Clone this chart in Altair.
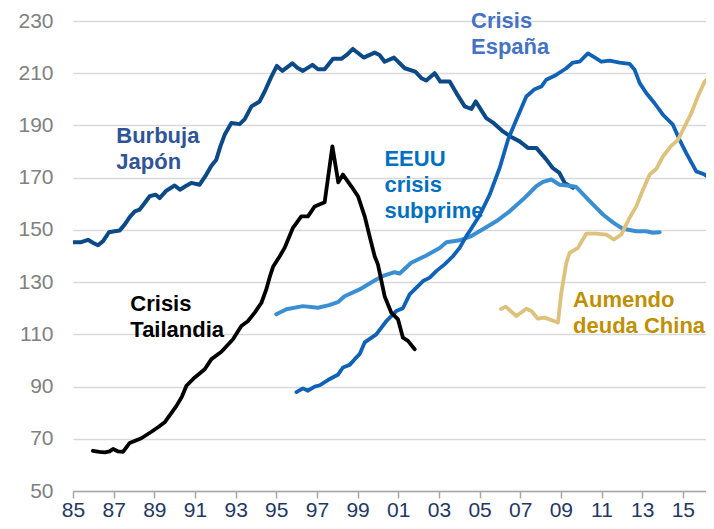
import altair as alt
import pandas as pd

# ---- data (decimal years, index values) ----
japan_years = [1985.0, 1985.4, 1985.74, 1986.0, 1986.23, 1986.48, 1986.77, 1987.05, 1987.3, 1987.54,
               1987.8, 1988.04, 1988.28, 1988.5, 1988.77, 1989.07, 1989.26, 1989.59, 1990.0, 1990.26,
               1990.55, 1990.82, 1991.23, 1991.56, 1991.8, 1992.05, 1992.25, 1992.46, 1992.79, 1993.2,
               1993.45, 1993.78, 1994.18, 1994.43, 1994.76, 1995.03, 1995.3, 1995.79, 1996.05, 1996.31,
               1996.78, 1997.05, 1997.38, 1997.79, 1998.2, 1998.5, 1998.77, 1999.3, 1999.84, 2000.08,
               2000.33, 2000.79, 2001.32, 2001.84, 2002.14, 2002.38, 2002.79, 2003.07, 2003.53, 2003.86,
               2004.27, 2004.6, 2004.81, 2005.33, 2005.66, 2006.15, 2006.56, 2006.97, 2007.38, 2007.79,
               2008.29, 2008.6, 2008.93, 2009.19, 2009.6]
japan_values = [145.3, 145.3, 146.2, 145.0, 144.1, 145.7, 149.1, 149.5, 149.8, 152.0,
                155.0, 157.1, 157.8, 160.0, 162.9, 163.5, 162.2, 165.0, 167.0, 165.4,
                166.8, 168.0, 167.3, 171.2, 174.5, 176.9, 182.0, 186.4, 190.9, 190.5,
                192.4, 197.3, 199.2, 203.0, 208.7, 212.8, 210.9, 213.8, 212.0, 210.9,
                213.2, 211.5, 211.5, 215.5, 215.5, 217.2, 219.3, 216.0, 217.9, 217.0,
                214.4, 216.0, 211.9, 210.6, 208.1, 207.2, 210.0, 206.8, 206.8, 202.4,
                197.3, 196.3, 199.2, 192.8, 191.1, 187.7, 185.6, 183.9, 181.4, 181.4,
                176.9, 173.7, 171.8, 168.0, 166.1]

thai_years = [1985.98, 1986.3, 1986.56, 1986.8, 1986.97, 1987.2, 1987.46, 1987.79, 1988.36, 1988.86,
              1989.2, 1989.51, 1990.09, 1990.35, 1990.58, 1990.99, 1991.48, 1991.81, 1992.3, 1992.87,
              1993.28, 1993.6, 1993.94, 1994.27, 1994.5, 1994.7, 1994.85, 1995.17, 1995.41, 1995.82,
              1996.23, 1996.56, 1996.89, 1997.38, 1997.76, 1998.05, 1998.28, 1998.69, 1999.02, 1999.35,
              1999.59, 1999.84, 2000.0, 2000.33, 2000.66, 2000.99, 2001.23, 2001.48, 2001.81]
thai_values = [65.4, 65.0, 64.8, 65.2, 66.1, 65.2, 65.0, 68.4, 70.2, 72.7,
               74.5, 76.3, 82.6, 86.0, 90.3, 93.5, 96.6, 100.5, 103.3, 108.1,
               113.2, 115.0, 118.3, 122.1, 127.0, 132.5, 136.0, 139.9, 143.1, 150.8,
               155.2, 155.2, 159.0, 160.6, 182.0, 168.2, 171.2, 166.7, 162.9, 155.2,
               147.6, 139.9, 136.8, 124.6, 118.3, 115.7, 108.7, 107.5, 104.3]

us_years = [1995.0, 1995.5, 1996.31, 1997.05, 1997.6, 1998.03, 1998.36, 1999.1, 1999.92, 2000.33,
            2000.82, 2001.07, 2001.64, 2002.38, 2003.04, 2003.37, 2004.02, 2004.51, 2005.0, 2005.82,
            2006.48, 2007.13, 2007.79, 2008.12, 2008.53, 2008.94, 2009.43, 2009.76, 2010.42, 2011.07,
            2011.56, 2012.05, 2012.71, 2013.2, 2013.53, 2013.86]
us_values = [117.7, 119.6, 120.8, 120.2, 121.2, 122.3, 124.6, 127.2, 131.0, 132.6,
             133.8, 133.3, 137.4, 140.2, 143.1, 145.3, 146.0, 147.3, 149.5, 153.3,
             157.1, 161.6, 166.7, 168.4, 169.3, 167.3, 166.9, 166.4, 161.0, 155.9,
             152.9, 150.4, 149.5, 149.5, 148.9, 149.1]

spain_years = [1995.99, 1996.31, 1996.56, 1996.89, 1997.14, 1997.54, 1998.03, 1998.28, 1998.61, 1998.86,
               1999.1, 1999.35, 1999.92, 2000.42, 2000.9, 2001.23, 2001.56, 2002.22, 2002.55, 2002.87,
               2003.28, 2003.69, 2004.02, 2004.35, 2004.51, 2005.0, 2005.5, 2006.0, 2006.4, 2006.81,
               2007.3, 2007.71, 2008.04, 2008.28, 2008.69, 2009.27, 2009.59, 2009.92, 2010.33, 2010.74,
               2010.99, 2011.4, 2011.89, 2012.38, 2012.63, 2012.88, 2013.2, 2013.61, 2014.02, 2014.51,
               2014.84, 2015.17, 2015.66, 2016.07, 2016.51]
spain_values = [87.9, 89.3, 88.4, 90.0, 90.5, 92.5, 94.5, 97.3, 98.3, 100.5,
                102.4, 106.9, 110.0, 115.1, 118.9, 120.0, 125.3, 130.4, 131.7, 134.2,
                136.8, 139.9, 143.1, 147.6, 149.5, 155.5, 163.5, 174.0, 184.5, 192.2,
                201.1, 203.9, 204.9, 207.5, 209.0, 211.9, 214.1, 214.4, 217.6, 215.7,
                214.4, 214.8, 214.1, 213.6, 211.3, 206.2, 202.4, 198.5, 194.1, 190.3,
                184.5, 179.4, 172.4, 171.2, 168.6]

china_years = [2006.05, 2006.28, 2006.81, 2007.3, 2007.55, 2007.87, 2008.2, 2008.86, 2009.02, 2009.27,
               2009.43, 2009.84, 2010.25, 2010.74, 2011.24, 2011.6, 2011.97, 2012.38, 2012.71, 2013.04,
               2013.37, 2013.69, 2014.02, 2014.43, 2014.76, 2015.09, 2015.42, 2015.74, 2016.07, 2016.4,
               2016.51]
china_values = [119.7, 120.6, 117.0, 119.8, 118.9, 116.0, 116.4, 114.5, 125.9, 137.4,
                141.2, 143.1, 148.6, 148.6, 148.2, 146.3, 148.2, 154.6, 159.0, 165.4,
                171.2, 173.3, 178.1, 182.2, 184.5, 189.6, 194.7, 201.1, 206.8, 209.0,
                209.4]

y_ticks = [50, 70, 90, 110, 130, 150, 170, 190, 210, 230]
x_ticks = list(range(1985, 2016, 2))

ann_text = ["Burbuja\nJapón", "Crisis\nEspaña", "EEUU\ncrisis\nsubprime", "Crisis\nTailandia", "Aumendo\ndeuda China"]
ann_year = [1987.13, 2004.58, 2000.32, 1987.82, 2009.6]
ann_value = [189.9, 233.9, 181.0, 125.6, 126.9]

# ---- styles ----
FONT = "Liberation Sans"
x_scale = alt.Scale(domain=[1985, 2016.14], nice=False, zero=False)
y_scale = alt.Scale(domain=[50, 230], nice=False, zero=False)

x_axis = alt.Axis(values=x_ticks, labelExpr="substring(toString(datum.value), 2, 4)",
                  grid=False, domainColor="#A6A6A6", domainWidth=1.5, tickColor="#A6A6A6",
                  tickWidth=1.5, tickSize=7, labelFontSize=21, labelColor="#1F3864",
                  labelFont=FONT, labelPadding=1.5, labelFlush=False, labelOverlap=False, title=None)
y_axis = alt.Axis(values=y_ticks, domain=False, ticks=False, tickSize=0, gridColor="#D9D9D9",
                  gridWidth=1.3, labelColor="#808080", labelFontSize=21, labelFont=FONT,
                  labelPadding=20, title=None)

series = [
    (japan_years, japan_values, "#0B4A86", 4.0),
    (us_years, us_values, "#3A8FD3", 4.0),
    (spain_years, spain_values, "#0F62B6", 3.8),
    (china_years, china_values, "#DCC27C", 3.8),
    (thai_years, thai_values, "#000000", 3.8),
]
ann_colors = ["#2F5597", "#4472C4", "#0070C0", "#000000", "#BF9000"]

layers = []
for i, (txt, yr, val) in enumerate(zip(ann_text, ann_year, ann_value)):
    df = pd.DataFrame({"year": [yr], "value": [val], "label": [txt]})
    layers.append(
        alt.Chart(df).mark_text(align="left", baseline="top", font=FONT, fontSize=22,
                                fontWeight="bold", lineBreak="\n", lineHeight=26,
                                color=ann_colors[i]).encode(
            x=alt.X("year:Q", scale=x_scale, axis=x_axis),
            y=alt.Y("value:Q", scale=y_scale, axis=y_axis),
            text="label:N",
        )
    )

for yrs, vals, col, w in series:
    df = pd.DataFrame({"year": yrs, "value": vals})
    layers.append(
        alt.Chart(df).mark_line(color=col, strokeWidth=w, clip=True, strokeJoin="round",
                                strokeCap="round").encode(
            x=alt.X("year:Q", scale=x_scale, axis=x_axis),
            y=alt.Y("value:Q", scale=y_scale, axis=y_axis),
        )
    )

chart = alt.layer(*layers).properties(
    width=633, height=470,
    autosize=alt.AutoSizeParams(type="none"),
    padding={"left": 65, "top": 13, "right": 0, "bottom": 30},
    background="white",
).configure_view(stroke=None)

chart.save("out.html", embed_options={"renderer": "svg", "actions": False})
